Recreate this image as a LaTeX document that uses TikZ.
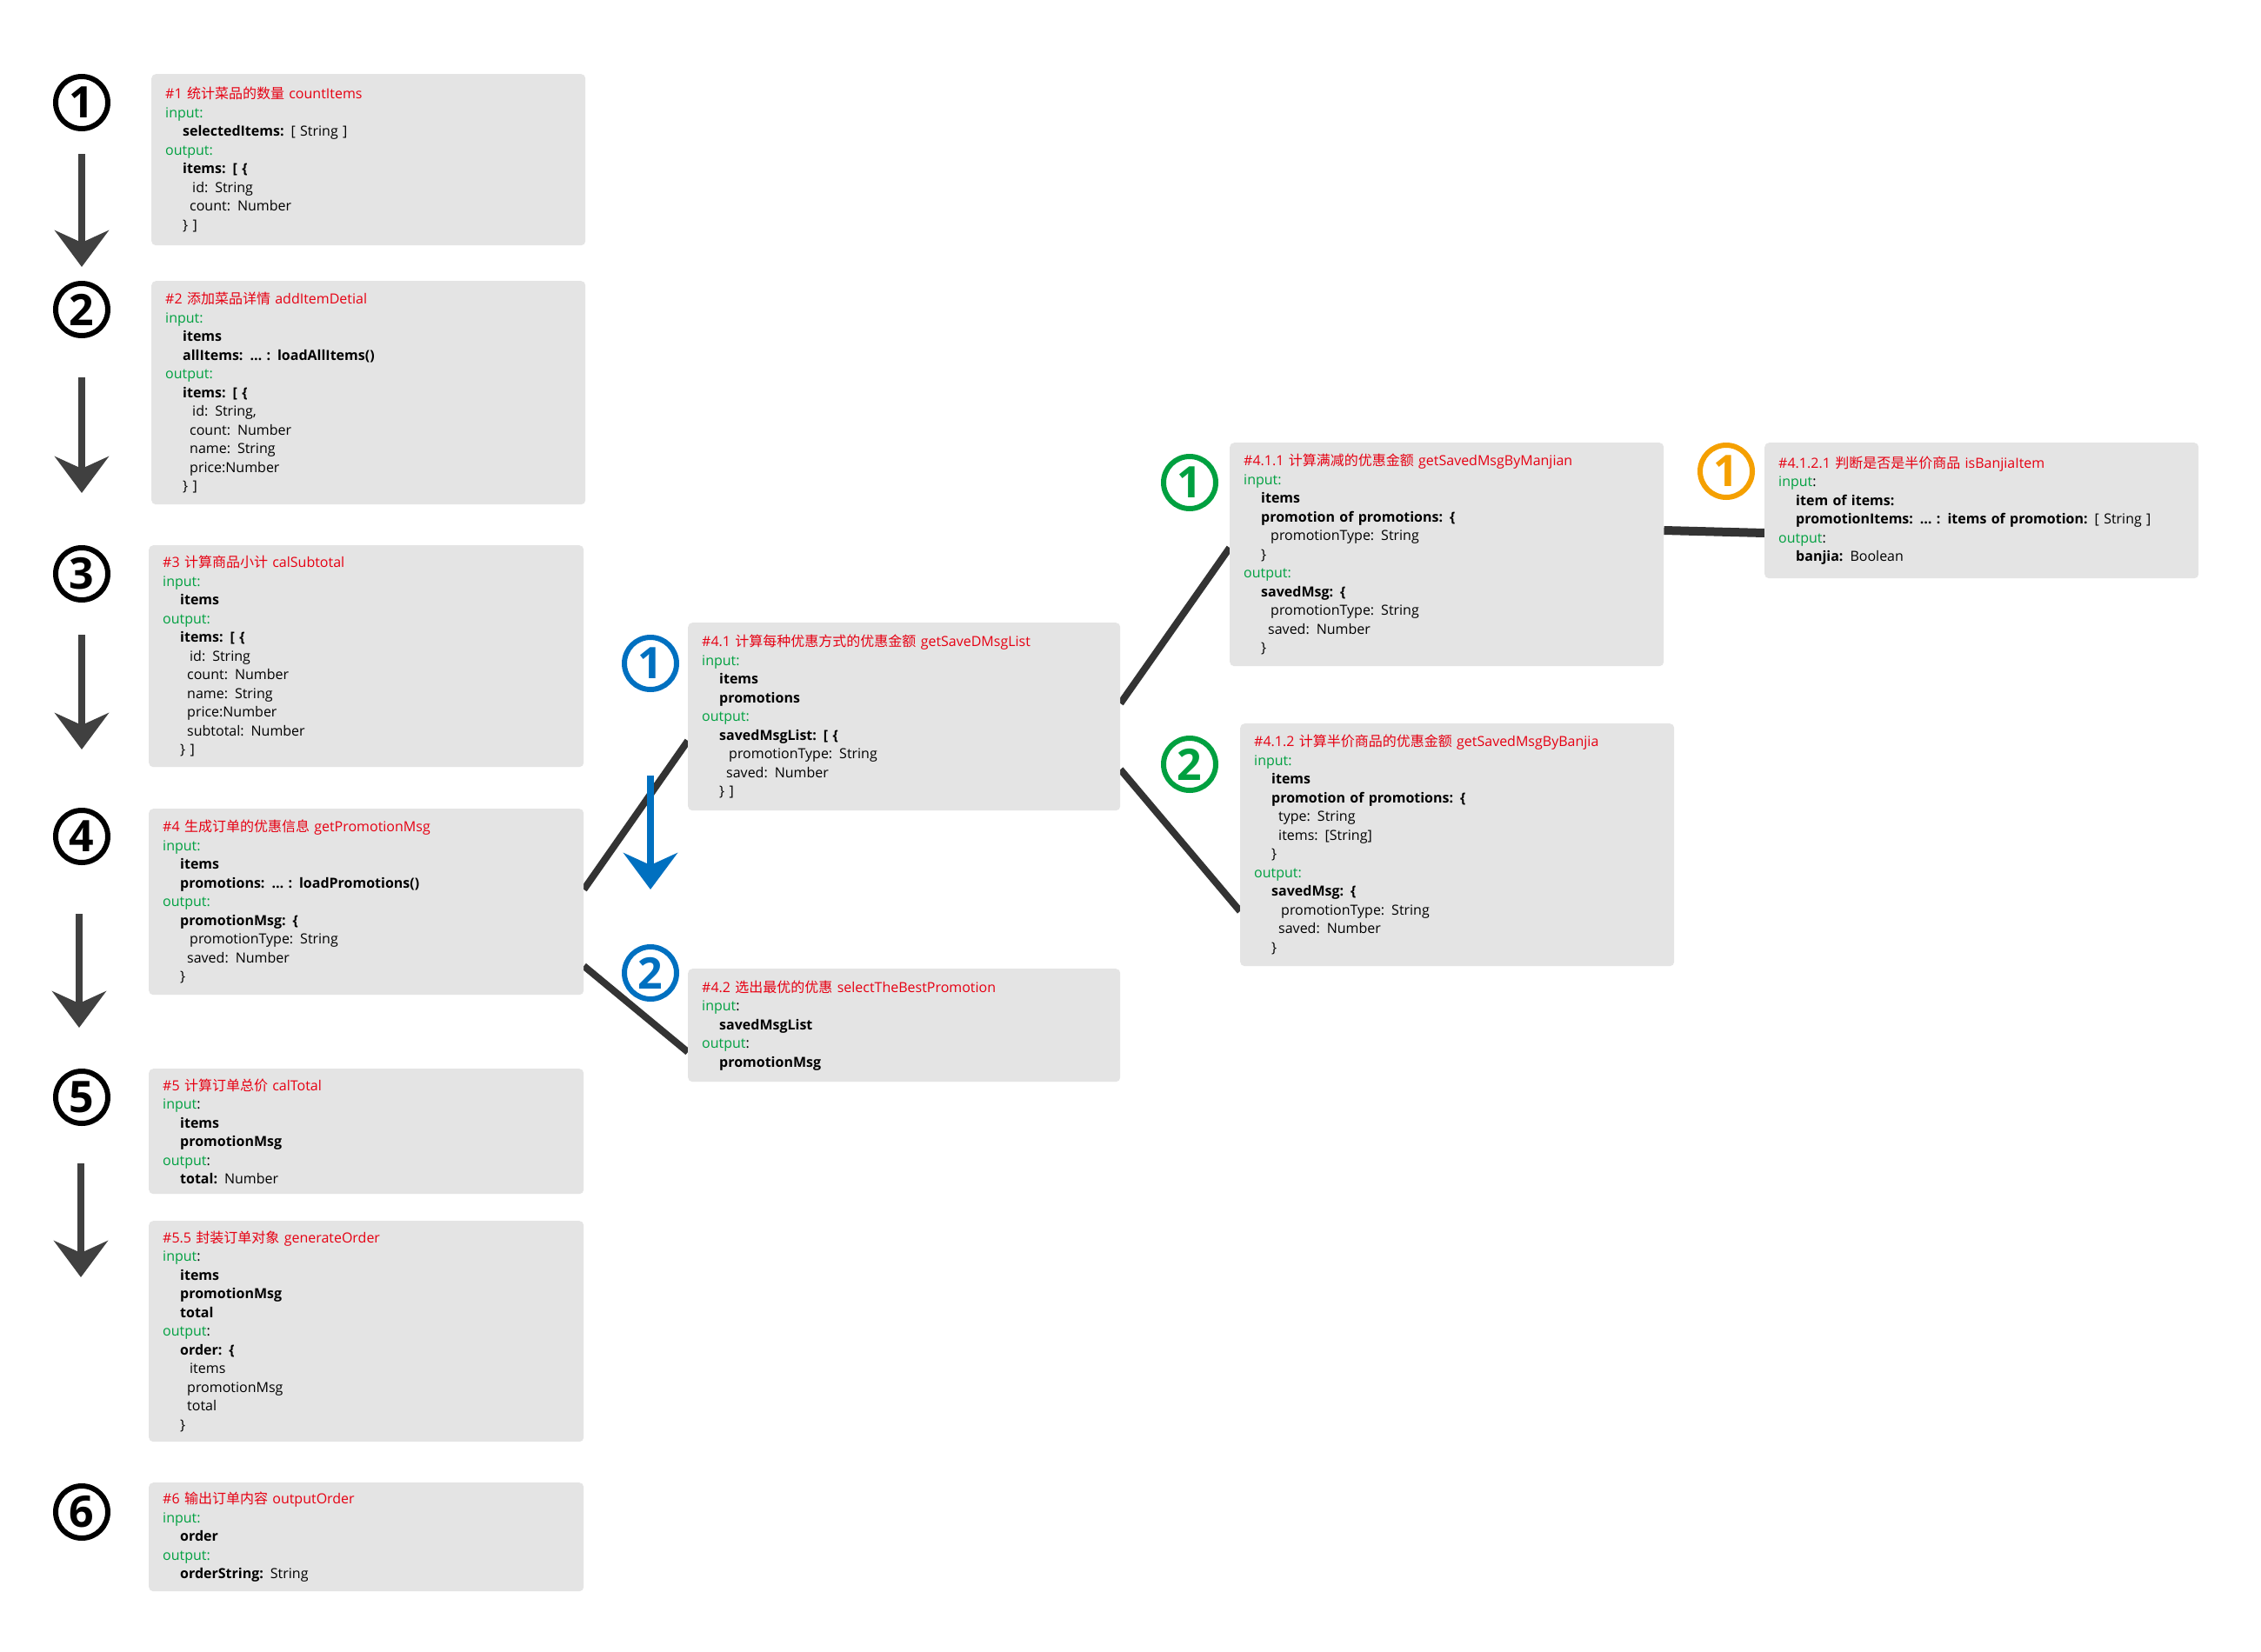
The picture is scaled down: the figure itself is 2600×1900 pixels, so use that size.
\documentclass[tikz,border=0pt]{standalone}
\usepackage{fontspec}
\setmainfont{Open Sans}
\newfontfamily\cjk{Noto Sans CJK SC}
\usetikzlibrary{arrows.meta,calc,backgrounds}
\definecolor{tred}{RGB}{230,0,18}
\definecolor{tgreen}{RGB}{0,160,64}
\definecolor{boxgray}{RGB}{228,228,228}
\definecolor{cblue}{RGB}{0,112,192}
\definecolor{cgreen}{RGB}{0,160,64}
\definecolor{corange}{RGB}{245,160,0}
\definecolor{linegray}{RGB}{51,51,51}
\definecolor{arrgray}{RGB}{64,64,64}
\newcommand\tl[1]{\textcolor{tred}{#1}}
\newcommand\gl[1]{\textcolor{tgreen}{#1}}
\newcommand\ia{\hspace*{20pt}}
\newcommand\ib{\hspace*{28pt}}
\newcommand\ic{\hspace*{31pt}}
\tikzset{
  x=1pt, y=-1pt,
  box/.style={fill=boxgray, rounded corners=5pt, anchor=north west, align=left,
    inner xsep=16pt, inner ysep=0pt, font=\fontsize{16}{21.5}\selectfont},
  circnum/.style={circle, draw=#1, text=#1, line width=6pt, minimum size=60pt,
    inner sep=0pt, font=\fontsize{50}{50}\selectfont\bfseries},
  conn/.style={draw=linegray, line width=8pt},
  darr/.style={draw=arrgray, line width=8pt, -{Stealth[length=42pt,width=62pt,inset=14pt]}},
  barr/.style={draw=cblue, line width=8pt, -{Stealth[length=42pt,width=62pt,inset=14pt]}}
}
\begin{document}
\begin{tikzpicture}
\useasboundingbox (0,0) rectangle (2600,1900);

% ---------- left column boxes ----------
\node[box, text width=467pt, minimum height=197pt] (b1) at (174,85) {%
\tl{\#1 {\cjk 统计菜品的数量} countItems}\\
\gl{input:}\\
\ia\textbf{selectedItems:} [ String ]\\
\gl{output:}\\
\ia\textbf{items: [ \{}\\
\ic id: String\\
\ib count: Number\\
\ia\} ]};

\node[box, text width=467pt, minimum height=257pt] (b2) at (174,323) {%
\tl{\#2 {\cjk 添加菜品详情} addItemDetial}\\
\gl{input:}\\
\ia\textbf{items}\\
\ia\textbf{allItems: … : loadAllItems()}\\
\gl{output:}\\
\ia\textbf{items: [ \{}\\
\ic id: String,\\
\ib count: Number\\
\ib name: String\\
\ib price:Number\\
\ia\} ]};

\node[box, text width=468pt, minimum height=255pt] (b3) at (171,627) {%
\tl{\#3 {\cjk 计算商品小计} calSubtotal}\\
\gl{input:}\\
\ia\textbf{items}\\
\gl{output:}\\
\ia\textbf{items: [ \{}\\
\ic id: String\\
\ib count: Number\\
\ib name: String\\
\ib price:Number\\
\ib subtotal: Number\\
\ia\} ]};

\node[box, text width=468pt, minimum height=214pt] (b4) at (171,930) {%
\tl{\#4 {\cjk 生成订单的优惠信息} getPromotionMsg}\\
\gl{input:}\\
\ia\textbf{items}\\
\ia\textbf{promotions: … : loadPromotions()}\\
\gl{output:}\\
\ia\textbf{promotionMsg: \{}\\
\ic promotionType: String\\
\ib saved: Number\\
\ia\}};

\node[box, text width=468pt, minimum height=144pt] (b5) at (171,1229) {%
\tl{\#5 {\cjk 计算订单总价} calTotal}\\
\gl{input}:\\
\ia\textbf{items}\\
\ia\textbf{promotionMsg}\\
\gl{output}:\\
\ia\textbf{total:} Number};

\node[box, text width=468pt, minimum height=254pt] (b55) at (171,1404) {%
\tl{\#5.5 {\cjk 封装订单对象} generateOrder}\\
\gl{input}:\\
\ia\textbf{items}\\
\ia\textbf{promotionMsg}\\
\ia\textbf{total}\\
\gl{output}:\\
\ia\textbf{order: \{}\\
\ic items\\
\ib promotionMsg\\
\ib total\\
\ia\}};

\node[box, text width=468pt, minimum height=125pt] (b6) at (171,1705) {%
\tl{\#6 {\cjk 输出订单内容} outputOrder}\\
\gl{input:}\\
\ia\textbf{order}\\
\gl{output:}\\
\ia\textbf{orderString:} String};

% ---------- middle column ----------
\node[box, text width=465pt, minimum height=216pt] (b41) at (791,716) {%
\tl{\#4.1 {\cjk 计算每种优惠方式的优惠金额} getSaveDMsgList}\\
\gl{input:}\\
\ia\textbf{items}\\
\ia\textbf{promotions}\\
\gl{output:}\\
\ia\textbf{savedMsgList: [ \{}\\
\ic promotionType: String\\
\ib saved: Number\\
\ia\} ]};

\node[box, text width=465pt, minimum height=130pt] (b42) at (791,1114) {%
\tl{\#4.2 {\cjk 选出最优的优惠} selectTheBestPromotion}\\
\gl{input}:\\
\ia\textbf{savedMsgList}\\
\gl{output}:\\
\ia\textbf{promotionMsg}};

% ---------- right columns ----------
\node[box, text width=467pt, minimum height=257pt] (b411) at (1414,509) {%
\tl{\#4.1.1 {\cjk 计算满减的优惠金额} getSavedMsgByManjian}\\
\gl{input:}\\
\ia\textbf{items}\\
\ia\textbf{promotion of promotions: \{}\\
\ic promotionType: String\\
\ia\}\\
\gl{output:}\\
\ia\textbf{savedMsg: \{}\\
\ic promotionType: String\\
\ib saved: Number\\
\ia\}};

\node[box, text width=467pt, minimum height=279pt] (b412) at (1426,832) {%
\tl{\#4.1.2 {\cjk 计算半价商品的优惠金额} getSavedMsgByBanjia}\\
\gl{input:}\\
\ia\textbf{items}\\
\ia\textbf{promotion of promotions: \{}\\
\ib type: String\\
\ib items: [String]\\
\ia\}\\
\gl{output:}\\
\ia\textbf{savedMsg: \{}\\
\ic promotionType: String\\
\ib saved: Number\\
\ia\}};

\node[box, text width=467pt, minimum height=156pt] (b4121) at (2029,509) {%
\tl{\#4.1.2.1 {\cjk 判断是否是半价商品} isBanjiaItem}\\
\gl{input}:\\
\ia\textbf{item of items:}\\
\ia\textbf{promotionItems: … : items of promotion:} [ String ]\\
\gl{output}:\\
\ia\textbf{banjia:} Boolean};

% ---------- circled numbers ----------
\node[circnum=black] (n1) at (94,118) {1};
\node[circnum=black] (n2) at (94,356) {2};
\node[circnum=black] (n3) at (94,660) {3};
\node[circnum=black] (n4) at (94,962) {4};
\node[circnum=black] (n5) at (94,1262) {5};
\node[circnum=black] (n6) at (94,1739) {6};
\node[circnum=cblue] (m1) at (748,763) {1};
\node[circnum=cblue] (m2) at (748,1119) {2};
\node[circnum=cgreen] (g1) at (1368,555) {1};
\node[circnum=cgreen] (g2) at (1368,879) {2};
\node[circnum=corange] (o1) at (1985,542) {1};

% ---------- vertical arrows ----------
\coordinate (a1s) at (94,177);  \coordinate (a1e) at (94,307);
\coordinate (a2s) at (94,434);  \coordinate (a2e) at (94,567);
\coordinate (a3s) at (94,730);  \coordinate (a3e) at (94,862);
\coordinate (a4s) at (91,1051); \coordinate (a4e) at (91,1182);
\coordinate (a5s) at (93,1338); \coordinate (a5e) at (93,1469);
\coordinate (bas) at (748,892); \coordinate (bae) at (748,1023);
\draw[darr] (a1s) -- (a1e);
\draw[darr] (a2s) -- (a2e);
\draw[darr] (a3s) -- (a3e);
\draw[darr] (a4s) -- (a4e);
\draw[darr] (a5s) -- (a5e);
\draw[barr] (bas) -- (bae);

% ---------- connectors (behind boxes) ----------
\begin{scope}[on background layer]
\fill[white] (0,0) rectangle (2600,1900);
\draw[conn] ($(b4.north east)+(0,93)$) -- ($(b41.north west)+(0,136)$);
\draw[conn] ($(b4.north east)+(0,181)$) -- ($(b42.north west)+(0,96)$);
\draw[conn] ($(b41.north east)+(0,93)$) -- ($(b411.north west)+(0,121)$);
\draw[conn] ($(b41.north east)+(0,169)$) -- ($(b412.north west)+(0,216)$);
\draw[conn, line width=10pt] ($(b411.north east)+(0,101)$) -- ($(b4121.north west)+(0,104)$);
\end{scope}
\end{tikzpicture}
\end{document}
